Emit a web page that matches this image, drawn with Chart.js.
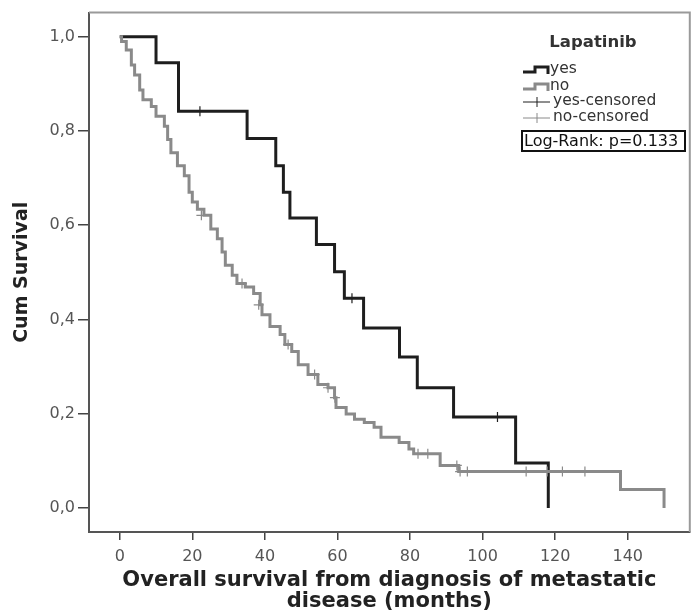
<!DOCTYPE html>
<html><head><meta charset="utf-8">
<script src="https://cdn.jsdelivr.net/npm/chart.js@4"></script>
<style>html,body{margin:0;padding:0;background:#fff}#wrap{width:696px;height:616px}</style>
</head><body><div id="wrap"><canvas id="c" width="696" height="616"></canvas></div>
<script>
// ---- data ----
const yesTimes = [0, 10.0, 16.2, 35.1, 43.0, 45.1, 46.9, 54.2, 59.2, 61.9, 67.2, 77.1, 82.0, 92.0, 109.1, 118.1];
const yesSurv  = [1.0, 0.945, 0.842, 0.784, 0.726, 0.670, 0.615, 0.559, 0.501, 0.445, 0.382, 0.320, 0.255, 0.193, 0.095, 0.0];
const yesCensorTimes = [22.1, 64.0, 104.1];
const yesCensorSurv  = [0.842, 0.445, 0.193];

const noTimes = [0, 0.5, 1.8, 3.2, 4.1, 5.5, 6.4, 8.7, 10.0, 12.3, 13.2, 14.1, 15.9, 17.8, 19.1, 20.0, 21.4, 23.2, 25.1, 26.9, 28.2, 29.1, 31.0, 32.3, 34.6, 36.9, 38.7, 39.2, 41.4, 44.2, 45.5, 47.4, 49.2, 51.9, 54.6, 57.4, 59.2, 59.6, 62.4, 64.7, 67.4, 70.1, 72.0, 77.0, 79.7, 81.0, 88.3, 93.4, 138.0, 150.0];
const noSurv  = [1.0, 0.99, 0.972, 0.940, 0.919, 0.887, 0.866, 0.852, 0.831, 0.810, 0.782, 0.754, 0.726, 0.705, 0.670, 0.649, 0.634, 0.621, 0.592, 0.571, 0.543, 0.515, 0.494, 0.476, 0.469, 0.455, 0.431, 0.410, 0.385, 0.368, 0.347, 0.332, 0.304, 0.283, 0.262, 0.255, 0.234, 0.213, 0.199, 0.188, 0.181, 0.171, 0.150, 0.139, 0.125, 0.115, 0.090, 0.077, 0.039, 0.0];
const noCensorTimes = [22.5, 33.7, 38.3, 46.4, 53.7, 57.4, 59.3, 82.2, 84.9, 92.9, 93.8, 95.8, 112.0, 117.8, 122.0, 128.2];
const noCensorSurv  = [0.621, 0.476, 0.431, 0.347, 0.283, 0.255, 0.234, 0.115, 0.115, 0.090, 0.077, 0.077, 0.077, 0.077, 0.077, 0.077];

const xTickValues = [0, 20, 40, 60, 80, 100, 120, 140];
const yTickValues = [0, 0.2, 0.4, 0.6, 0.8, 1.0];
const yTickLabels = ['0,0', '0,2', '0,4', '0,6', '0,8', '1,0'];
const legendTitle = 'Lapatinib';
const seriesNames = ['yes', 'no'];
const censorNames = ['yes-censored', 'no-censored'];
const testText = 'Log-Rank: p=0.133';
const xTitle = ['Overall survival from diagnosis of metastatic', 'disease (months)'];
const yTitle = 'Cum Survival';

const BLACK = '#1e1e1e';
const GRAY = '#8a8a8a';
const FONT = 'DejaVu Sans';

const pts = (xs, ys) => xs.map((x, i) => ({x: x, y: ys[i]}));

const framePlugin = {
  id: 'frame',
  beforeDatasetsDraw(chart) {
    const {ctx, chartArea: a} = chart;
    ctx.save();
    ctx.strokeStyle = '#9a9a9a';
    ctx.lineWidth = 2;
    ctx.beginPath();
    ctx.moveTo(a.left, a.top);
    ctx.lineTo(a.right, a.top);
    ctx.lineTo(a.right, a.bottom);
    ctx.stroke();
    ctx.restore();
  }
};

const legendPlugin = {
  id: 'kmLegend',
  afterDraw(chart) {
    const ctx = chart.ctx;
    ctx.save();
    ctx.textBaseline = 'middle';
    ctx.fillStyle = '#333';
    ctx.font = 'bold 16.5px "' + FONT + '"';
    ctx.textAlign = 'center';
    ctx.fillText(legendTitle, 593, 43);
    ctx.textAlign = 'left';
    const colors = [BLACK, GRAY];
    const rows = [69, 86];
    for (let i = 0; i < 2; i++) {
      const y = rows[i];
      ctx.strokeStyle = colors[i];
      ctx.lineWidth = 3;
      ctx.beginPath();
      ctx.moveTo(523, y + 3);
      ctx.lineTo(535, y + 3);
      ctx.lineTo(535, y - 2);
      ctx.lineTo(548, y - 2);
      ctx.lineTo(548, y + 5);
      ctx.stroke();
      ctx.fillStyle = '#333';
      ctx.font = '15.5px "' + FONT + '"';
      ctx.fillText(seriesNames[i], 550, y);
    }
    const crows = [102, 118];
    for (let i = 0; i < 2; i++) {
      const y = crows[i];
      ctx.strokeStyle = colors[i];
      ctx.lineWidth = 1;
      ctx.beginPath();
      ctx.moveTo(523, y);
      ctx.lineTo(550, y);
      ctx.moveTo(537, y - 5);
      ctx.lineTo(537, y + 5);
      ctx.stroke();
      ctx.fillStyle = '#333';
      ctx.font = '15.5px "' + FONT + '"';
      ctx.fillText(censorNames[i], 553, y - 1);
    }
    ctx.strokeStyle = '#111';
    ctx.lineWidth = 2;
    ctx.strokeRect(522, 131, 163, 20);
    ctx.fillStyle = '#111';
    ctx.font = '16px "' + FONT + '"';
    ctx.fillText(testText, 524, 141.5, 159);
    ctx.restore();
  }
};

new Chart(document.getElementById('c'), {
  data: {
    datasets: [
      {type: 'line', label: seriesNames[1], data: pts(noTimes, noSurv), stepped: 'before', borderColor: GRAY, borderWidth: 3, pointRadius: 0, fill: false},
      {type: 'scatter', label: censorNames[1], data: pts(noCensorTimes, noCensorSurv), pointStyle: 'cross', pointRadius: 5, borderColor: GRAY, borderWidth: 1.2},
      {type: 'line', label: seriesNames[0], data: pts(yesTimes, yesSurv), stepped: 'before', borderColor: BLACK, borderWidth: 3, pointRadius: 0, fill: false},
      {type: 'scatter', label: censorNames[0], data: pts(yesCensorTimes, yesCensorSurv), pointStyle: 'cross', pointRadius: 5, borderColor: BLACK, borderWidth: 1.2}
    ]
  },
  options: {
    responsive: false,
    animation: false,
    devicePixelRatio: 1,
    layout: {padding: {top: 9, right: 1, left: 0, bottom: 0}},
    plugins: {legend: {display: false}, tooltip: {enabled: false}},
    scales: {
      x: {
        type: 'linear', min: -8.47, max: 157.1,
        afterBuildTicks: s => { s.ticks = xTickValues.map(v => ({value: v})); },
        afterFit: s => { s.height = 84; },
        grid: {drawOnChartArea: false, drawTicks: true, tickLength: 8, color: '#444', lineWidth: 1.5},
        border: {display: true, color: '#555', width: 2},
        ticks: {color: '#555', font: {family: FONT, size: 16}, padding: 7, maxRotation: 0, autoSkip: false},
        title: {display: true, text: xTitle, color: '#222', font: {family: FONT, weight: 'bold', size: 21, lineHeight: 1.0}, padding: {top: 0, bottom: 4}}
      },
      y: {
        type: 'linear', min: -0.0512, max: 1.0512,
        afterBuildTicks: s => { s.ticks = yTickValues.map(v => ({value: v})); },
        afterFit: s => { s.width = 89; },
        grid: {drawOnChartArea: false, drawTicks: true, tickLength: 11, color: '#444', lineWidth: 1.5},
        border: {display: true, color: '#555', width: 2},
        ticks: {color: '#555', font: {family: FONT, size: 16}, padding: 3, autoSkip: false,
          callback: (v, i) => yTickLabels[i]},
        title: {display: true, text: yTitle, color: '#222', font: {family: FONT, weight: 'bold', size: 19, lineHeight: 1.2}, padding: {top: 11, bottom: 0}}
      }
    }
  },
  plugins: [framePlugin, legendPlugin]
});
</script>
</body></html>
